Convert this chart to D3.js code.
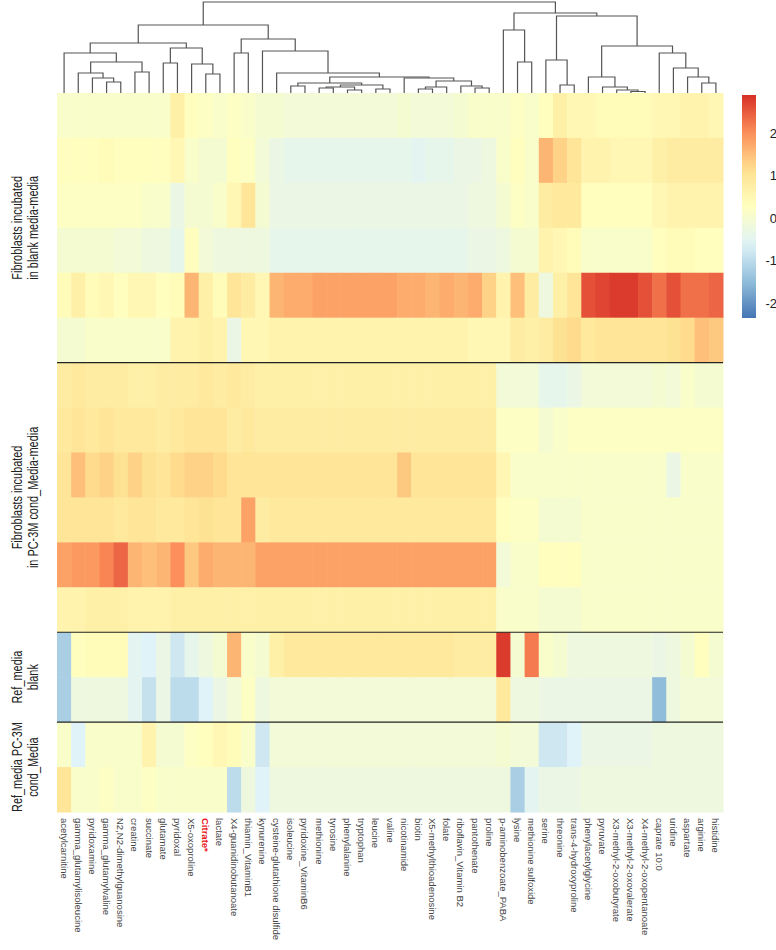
<!DOCTYPE html>
<html><head><meta charset="utf-8">
<script src="https://cdn.jsdelivr.net/npm/d3@7"></script>
<style>body{margin:0;background:#fff}</style>
</head><body><svg id="c" width="776" height="950"></svg>
<script>
const columns = ["acetylcarnitine","gamma_glutamylisoleucine","pyridoxamine","gamma_glutamylvaline","N2,N2-dimethylguanosine","creatine","succinate","glutamate","pyridoxal","X5-oxoproline","Citrate*","lactate","X4-guanidinobutanoate","thiamin_VitaminB1","kynurenine","cysteine-glutathione disulfide","isoleucine","pyridoxine_VitaminB6","methionine","tyrosine","phenylalanine","tryptophan","leucine","valine","nicotinamide","biotin","X5-methylthioadenosine","folate","riboflavin_Vitamin B2","pantothenate","proline","p-aminobenzoate_PABA","lysine","methionine sulfoxide","serine","threonine","trans-4-hydroxyproline","phenylacetylglycine","pyruvate","X3-methyl-2-oxobutyrate","X3-methyl-2-oxovalerate","X4-methyl-2-oxopentanoate","caprate 10:0","uridine","aspartate","arginine","histidine"];
const highlighted = ["Citrate*"];
const groupLines1 = ["Fibroblasts incubated","Fibroblasts incubated","Ref_media","Ref_media PC-3M"];
const groupLines2 = ["in blank media-media","in PC-3M  cond_Media-media","blank","cond_Media"];
const groupSizes = [6,6,2,2];
const legendTicks = [-2,-1,0,1,2];
const valueRange = [-2.35, 2.9];
const palette = ["#4575B4","#91BFDB","#E0F3F8","#FFFFBF","#FEE090","#FC8D59","#D73027"];

const values = [
 [0.1,0.1,0.1,0.1,0.1,0.1,0.1,0.1, 0.7,0.3,0.2,0.1, 0.2,0.1,0.0, 0.0,-0.1,-0.1,-0.1,-0.1,-0.1,-0.1,-0.1,-0.1,0.0,-0.1,-0.1,-0.1,0.0,0.1,0.1, 0.1,0.2,0.1, 0.3,0.7,0.5, 0.5,0.4,0.4,0.4,0.4, 0.5,0.5,0.6,0.6,0.5],
 [0.3,0.3,0.3,0.4,0.3,0.3,0.3,0.3, 0.5,0.1,0.0,0.0, 0.3,0.2,-0.1, -0.3,-0.4,-0.4,-0.4,-0.4,-0.4,-0.4,-0.4,-0.4,-0.4,-0.5,-0.4,-0.4,-0.3,-0.3,-0.2, 0.1,0.3,0.1, 1.6,1.3,1.0, 0.6,0.6,0.5,0.5,0.5, 0.7,0.8,0.8,0.8,0.8],
 [0.2,0.2,0.2,0.2,0.2,0.2,0.1,0.1, -0.3,0.0,0.0,0.1, 0.5,1.0,0.0, -0.3,-0.3,-0.3,-0.3,-0.3,-0.3,-0.3,-0.3,-0.3,-0.3,-0.3,-0.3,-0.3,-0.3,-0.2,-0.2, 0.0,0.2,0.1, 0.8,0.9,0.9, 0.3,0.3,0.3,0.3,0.3, 0.5,0.6,0.6,0.6,0.6],
 [0.0,0.0,0.0,0.0,-0.1,-0.1,-0.2,-0.2, -0.4,0.3,-0.1,-0.2, -0.2,-0.2,-0.2, -0.4,-0.4,-0.4,-0.4,-0.4,-0.4,-0.4,-0.4,-0.4,-0.4,-0.4,-0.4,-0.4,-0.4,-0.3,-0.3, -0.2,0.0,0.0, 0.6,0.5,0.4, 0.1,0.1,0.1,0.1,0.1, 0.3,0.4,0.4,0.3,0.3],
 [0.4,0.7,0.4,0.5,0.3,0.5,0.5,0.3, 0.4,1.6,0.7,0.4, 1.0,0.8,0.5, 1.6,1.7,1.7,1.8,1.8,1.8,1.8,1.8,1.8,1.7,1.7,1.6,1.7,1.6,1.7,1.3, 0.6,1.5,0.8, -0.2,0.7,1.0, 2.6,2.7,2.8,2.8,2.6, 2.3,2.6,2.3,2.3,2.4],
 [0.0,0.0,0.1,0.1,0.1,0.1,0.1,0.1, 0.6,0.6,0.7,0.6, -0.3,0.5,0.5, 0.6,0.6,0.6,0.6,0.6,0.6,0.6,0.6,0.6,0.6,0.6,0.6,0.6,0.6,0.5,0.5, 0.5,0.8,0.7, 0.8,1.1,1.2, 0.9,1.0,1.0,1.0,1.0, 1.0,1.1,1.2,1.5,1.4],
 [0.8,0.9,0.8,0.8,0.8,0.7,0.7,0.8, 0.8,0.8,0.9,0.8, 0.9,0.8,0.7, 0.7,0.7,0.7,0.7,0.7,0.7,0.7,0.7,0.7,0.7,0.7,0.7,0.7,0.7,0.7,0.7, -0.1,-0.1,-0.1, -0.4,-0.4,-0.3, -0.1,-0.1,-0.1,-0.1,-0.1, 0.0,-0.1,0.1,0.0,0.0],
 [0.9,1.0,0.9,1.0,0.9,0.9,0.9,0.8, 0.9,1.0,1.0,1.0, 0.8,0.9,0.8, 0.8,0.8,0.8,0.8,0.8,0.8,0.8,0.8,0.8,0.8,0.8,0.8,0.8,0.8,0.8,0.8, 0.2,0.2,0.2, 0.0,0.1,0.2, 0.2,0.2,0.2,0.2,0.2, 0.2,0.2,0.2,0.2,0.2],
 [1.0,1.5,1.2,1.3,1.1,1.3,1.1,1.0, 1.2,1.3,1.3,1.2, 1.0,1.0,1.0, 1.0,1.0,1.0,1.0,1.0,1.0,1.0,1.0,1.0,1.4,1.0,1.0,1.0,1.0,1.0,1.0, 0.5,0.1,0.1, 0.1,0.1,0.1, 0.1,0.1,0.1,0.1,0.1, 0.1,-0.3,0.1,0.1,0.1],
 [1.0,1.0,1.0,1.0,0.9,1.0,1.0,0.9, 0.9,1.0,1.1,1.0, 1.0,1.8,0.8, 0.9,0.9,0.9,0.9,0.9,0.9,0.9,0.9,0.9,0.9,0.9,0.9,0.9,0.9,0.9,0.9, 0.3,0.2,0.2, 0.0,0.0,0.0, 0.1,0.1,0.1,0.1,0.1, 0.1,0.1,0.1,0.1,0.1],
 [1.8,1.9,1.9,2.1,2.4,1.6,1.5,1.6, 2.0,1.4,1.7,1.6, 1.6,1.6,1.8, 1.8,1.8,1.8,1.8,1.8,1.8,1.8,1.8,1.8,1.8,1.8,1.8,1.8,1.8,1.8,1.8, -0.1,0.1,0.1, 0.3,0.3,0.3, 0.1,0.1,0.1,0.1,0.1, 0.1,0.1,0.1,0.1,0.1],
 [0.6,0.6,0.7,0.7,0.7,0.6,0.6,0.6, 0.7,0.7,0.7,0.7, 0.7,0.7,0.7, 0.7,0.7,0.7,0.7,0.7,0.7,0.7,0.7,0.7,0.7,0.7,0.7,0.7,0.7,0.7,0.7, 0.1,0.1,0.1, 0.0,0.0,0.0, 0.1,0.1,0.1,0.1,0.1, 0.1,0.1,0.1,0.1,0.1],
 [-1.2,0.3,0.4,0.4,0.4,-0.5,-0.6,-0.3, -0.8,-0.4,-0.2,0.0, 1.6,0.1,0.0, 0.7,0.9,0.9,0.9,0.9,0.9,0.9,0.9,0.9,0.9,0.9,0.9,0.9,0.8,0.8,0.8, 2.8,0.0,2.2, 0.1,0.0,-0.2, -0.2,-0.2,-0.2,-0.2,-0.2, -0.3,-0.2,0.0,0.3,0.0],
 [-1.2,-0.2,-0.2,-0.2,-0.2,-0.5,-0.9,-0.3, -1.0,-1.0,-0.6,-0.3, -0.1,0.2,-0.2, -0.1,-0.1,-0.1,-0.1,-0.1,-0.1,-0.1,-0.1,-0.1,-0.1,-0.1,-0.1,-0.1,-0.1,-0.1,-0.1, 0.9,-0.2,-0.2, -0.3,-0.3,-0.3, -0.3,-0.3,-0.3,-0.3,-0.3, -1.5,-0.2,-0.1,-0.1,-0.1],
 [0.1,-0.6,0.1,0.1,0.1,0.1,0.6,0.0, 0.0,0.2,0.3,0.5, 0.4,0.1,-0.8, -0.1,-0.1,-0.1,-0.1,-0.1,-0.1,-0.1,-0.1,-0.1,-0.1,-0.1,-0.1,-0.1,-0.1,-0.1,-0.1, 0.0,-0.1,-0.1, -0.8,-0.8,-0.6, -0.3,-0.3,-0.3,-0.3,-0.3, -0.2,-0.2,-0.2,-0.2,-0.2],
 [1.0,0.1,0.1,0.2,0.1,0.1,0.2,0.1, 0.1,0.1,0.1,0.1, -1.0,-0.2,-0.6, -0.2,-0.2,-0.2,-0.2,-0.2,-0.2,-0.2,-0.2,-0.2,-0.2,-0.2,-0.2,-0.2,-0.2,-0.2,-0.2, -0.2,-1.2,-0.5, -0.3,-0.3,-0.3, -0.2,-0.2,-0.2,-0.2,-0.2, -0.2,-0.2,-0.2,-0.2,-0.2]
];

// hclust-style merges: [left, right, height]; negative = leaf (1-based column), positive = earlier merge (1-based)
const merges = [
 [-4,-5,11],[-3,1,15],[-2,2,20],[-6,-7,21],[3,4,31],[-1,5,40],[-8,-9,30],[-11,-12,19],[-10,8,29],[7,9,45],
 [6,10,50],[-13,-14,40],[-17,-18,7],[-19,-20,5],[-21,-22,3],[14,15,6],[-23,-24,4],[16,17,8],[13,18,10],[-26,-27,4],
 [-28,20,6],[-30,-31,5],[-29,22,7],[21,23,12],[-25,24,15],[19,25,16],[-16,26,20],[-15,27,42],[12,28,54],[11,29,68],
 [-33,-34,31],[-32,31,63],[-36,-37,8],[-35,33,33],[-41,-42,1.5],[-40,35,3],[-39,36,6],[-38,37,16],[-46,-47,10],[-45,39,16],
 [-44,40,25],[-43,41,40],[38,42,47],[34,43,77],[32,44,80],[30,45,91]
];

const svg = d3.select("#c");
const hm = {x0:57, x1:723, y0:93, y1:812};
const nRows = values.length;
const x = d3.scaleBand().domain(columns).range([hm.x0, hm.x1]);
const y = d3.scaleBand().domain(d3.range(nRows)).range([hm.y0, hm.y1]);
const color = d3.scaleLinear()
  .domain(d3.range(palette.length).map(i => valueRange[0] + i*(valueRange[1]-valueRange[0])/(palette.length-1)))
  .range(palette).interpolate(d3.interpolateRgb).clamp(true);

// cells
const cells = [];
values.forEach((row, r) => row.forEach((v, c) => cells.push({r, c, v})));
svg.append("g").selectAll("rect").data(cells).join("rect")
  .attr("x", d => x(columns[d.c]))
  .attr("y", d => y(d.r))
  .attr("width", x.bandwidth()+0.5)
  .attr("height", y.bandwidth()+0.5)
  .attr("fill", d => color(d.v));

// group separators
const cum = d3.cumsum(groupSizes);
svg.append("g").selectAll("line").data(cum.slice(0, -1)).join("line")
  .attr("x1", hm.x0).attr("x2", hm.x1)
  .attr("y1", d => y(d)).attr("y2", d => y(d))
  .attr("stroke", "#222").attr("stroke-width", 1.2);

// group labels (condensed)
const starts = [0, ...cum.slice(0, -1)];
const gl = svg.append("g").attr("font-family", "'Liberation Sans',Arial,sans-serif")
  .attr("font-size", 14).attr("fill", "#222");
groupSizes.forEach((n, i) => {
  const cy = (y(starts[i]) + y(starts[i] + n - 1) + y.bandwidth()) / 2;
  gl.append("text").attr("transform", `translate(22,${cy}) rotate(-90) scale(0.78,1)`).attr("text-anchor", "middle").text(groupLines1[i]);
  gl.append("text").attr("transform", `translate(38,${cy}) rotate(-90) scale(0.78,1)`).attr("text-anchor", "middle").text(groupLines2[i]);
});

// column labels
svg.append("g").selectAll("text").data(columns).join("text")
  .attr("transform", d => `translate(${x(d) + x.bandwidth()/2 - 3.5},818) rotate(90)`)
  .attr("font-family", "'Liberation Sans',Arial,sans-serif")
  .attr("font-size", 9.5)
  .attr("fill", d => highlighted.includes(d) ? "#e8141c" : "#444")
  .attr("font-weight", d => highlighted.includes(d) ? "bold" : "normal")
  .text(d => d);

// dendrogram
const hY = d3.scaleLinear().domain([0, 91]).range([hm.y0, 2]);
const nodeX = [], nodeH = [];
const posOf = id => id < 0 ? {x: x(columns[-id-1]) + x.bandwidth()/2, h: 0} : {x: nodeX[id-1], h: nodeH[id-1]};
const dPaths = [];
merges.forEach(([a, b, h]) => {
  const pa = posOf(a), pb = posOf(b);
  nodeX.push((pa.x + pb.x) / 2); nodeH.push(h);
  dPaths.push(`M${pa.x},${hY(pa.h)}V${hY(h)}H${pb.x}V${hY(pb.h)}`);
});
svg.append("g").selectAll("path").data(dPaths).join("path")
  .attr("d", d => d).attr("fill", "none").attr("stroke", "#555").attr("stroke-width", 1.2);

// legend
const lg = {x: 742, w: 14, y0: 95, y1: 318};
const ly = d3.scaleLinear().domain([valueRange[1], valueRange[0]]).range([lg.y0, lg.y1]);
const defs = svg.append("defs");
const grad = defs.append("linearGradient").attr("id", "lgGrad").attr("x1", 0).attr("x2", 0).attr("y1", 0).attr("y2", 1);
grad.selectAll("stop").data(d3.range(0, 1.0001, 0.05)).join("stop")
  .attr("offset", d => d)
  .attr("stop-color", d => color(valueRange[1] - d*(valueRange[1]-valueRange[0])));
svg.append("rect").attr("x", lg.x).attr("y", lg.y0).attr("width", lg.w).attr("height", lg.y1 - lg.y0).attr("fill", "url(#lgGrad)");
svg.append("g").selectAll("text").data(legendTicks).join("text")
  .attr("x", 777).attr("y", d => ly(d) + 4.5)
  .attr("text-anchor", "end")
  .attr("font-family", "'Liberation Sans',Arial,sans-serif").attr("font-size", 13).attr("fill", "#222")
  .text(d => d);
</script></body></html>
